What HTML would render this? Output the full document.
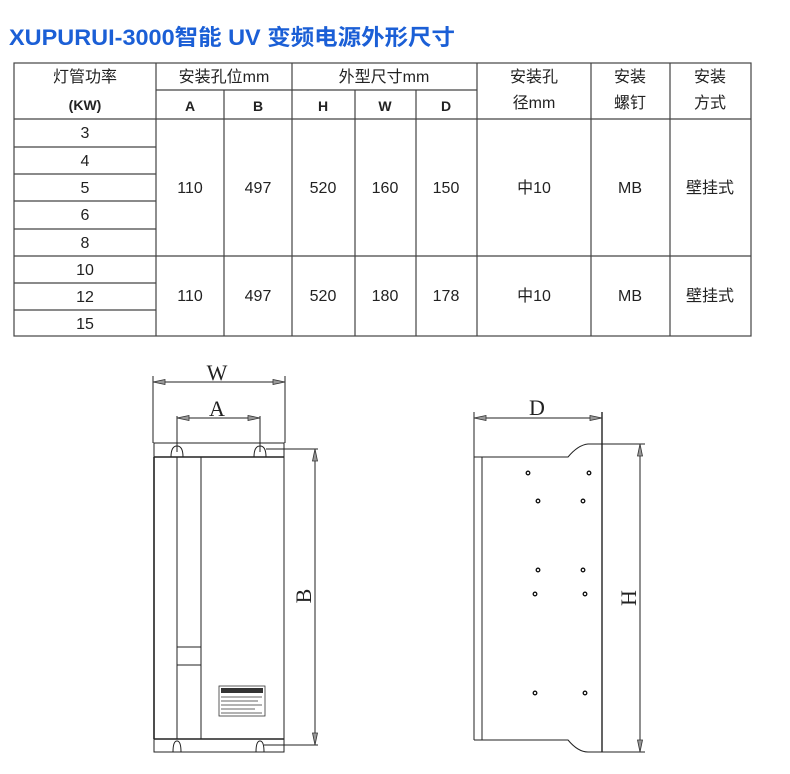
<!DOCTYPE html><html><head><meta charset="utf-8"><style>
body{margin:0;width:790px;height:774px;background:#fff;overflow:hidden;font-family:"Liberation Sans","Noto Sans CJK SC",sans-serif}
</style></head><body>
<svg width="790" height="774" xmlns="http://www.w3.org/2000/svg" style="position:absolute;left:0;top:0">
<text x="9" y="45" font-size="22" fill="#1b5fd6" font-family="Liberation Sans Narrow,Liberation Sans,Noto Sans CJK SC,sans-serif" font-weight="bold" textLength="446" lengthAdjust="spacingAndGlyphs">XUPURUI-3000智能 UV 变频电源外形尺寸</text>
<g stroke="#444" stroke-width="1.2" fill="none">
<rect x="14" y="63" width="737" height="273"/>
<line x1="14" y1="119" x2="751" y2="119"/>
<line x1="156" y1="90" x2="477" y2="90"/>
<line x1="14" y1="256" x2="751" y2="256"/>
<line x1="14" y1="147" x2="156" y2="147"/><line x1="14" y1="174" x2="156" y2="174"/><line x1="14" y1="201" x2="156" y2="201"/><line x1="14" y1="229" x2="156" y2="229"/><line x1="14" y1="283" x2="156" y2="283"/><line x1="14" y1="310" x2="156" y2="310"/>
<line x1="156" y1="63" x2="156" y2="336"/><line x1="292" y1="63" x2="292" y2="336"/><line x1="477" y1="63" x2="477" y2="336"/><line x1="591" y1="63" x2="591" y2="336"/><line x1="670" y1="63" x2="670" y2="336"/>
<line x1="224" y1="90" x2="224" y2="336"/><line x1="355" y1="90" x2="355" y2="336"/><line x1="416" y1="90" x2="416" y2="336"/>
</g>
<g font-size="16" fill="#222" text-anchor="middle" font-family="Liberation Sans,Noto Sans CJK SC,sans-serif">
<text x="85" y="82">灯管功率</text><text x="85" y="110" font-weight="bold" font-size="14">(KW)</text>
<text x="224" y="82">安装孔位mm</text><text x="384" y="82">外型尺寸mm</text>
<g font-weight="bold" font-size="14"><text x="190" y="111">A</text><text x="258" y="111">B</text><text x="323" y="111">H</text><text x="385" y="111">W</text><text x="446" y="111">D</text></g>
<text x="534" y="82">安装孔</text><text x="534" y="108">径mm</text>
<text x="630" y="82">安装</text><text x="630" y="108">螺钉</text>
<text x="710" y="82">安装</text><text x="710" y="108">方式</text>
<text x="85" y="138">3</text><text x="85" y="166">4</text><text x="85" y="193">5</text><text x="85" y="220">6</text><text x="85" y="248">8</text>
<text x="85" y="275">10</text><text x="85" y="302">12</text><text x="85" y="329">15</text>
<text x="190" y="193">110</text><text x="258" y="193">497</text><text x="323" y="193">520</text><text x="385" y="193">160</text><text x="446" y="193">150</text><text x="534" y="193">中10</text><text x="630" y="193">MB</text><text x="710" y="193">壁挂式</text>
<text x="190" y="301">110</text><text x="258" y="301">497</text><text x="323" y="301">520</text><text x="385" y="301">180</text><text x="446" y="301">178</text><text x="534" y="301">中10</text><text x="630" y="301">MB</text><text x="710" y="301">壁挂式</text>
</g>
<g stroke="#222" stroke-width="1" fill="none">
<line x1="153" y1="376" x2="153" y2="443"/><line x1="285" y1="376" x2="285" y2="443"/>
<line x1="153" y1="382" x2="285" y2="382"/>
<line x1="177" y1="416" x2="177" y2="452"/><line x1="260" y1="416" x2="260" y2="452"/>
<line x1="177" y1="418" x2="260" y2="418"/>
<rect x="154" y="443" width="130" height="309"/>
<line x1="154" y1="457" x2="284" y2="457" stroke-width="1.5"/><line x1="154" y1="739" x2="284" y2="739" stroke-width="1.5"/>
<line x1="154" y1="457" x2="154" y2="739" stroke-width="1.6"/>
<line x1="177" y1="457" x2="177" y2="739"/><line x1="201" y1="457" x2="201" y2="739"/>
<rect x="177" y="647" width="24" height="18"/>
<path d="M171,457 Q171,446 177,446 Q183,446 183,457"/><path d="M254,457 Q254,446 260,446 Q266,446 266,457"/>
<path d="M173,752 Q173,741 177,741 Q181,741 181,752"/><path d="M256,752 Q256,741 260,741 Q264,741 264,752"/>
<line x1="266" y1="449" x2="318" y2="449"/><line x1="264" y1="745" x2="318" y2="745"/>
<line x1="315" y1="449" x2="315" y2="745"/>
<line x1="474" y1="412" x2="474" y2="740"/><line x1="602" y1="412" x2="602" y2="752" stroke-width="1.4"/>
<line x1="474" y1="418" x2="602" y2="418"/>
<line x1="482" y1="457" x2="482" y2="740"/>
<path d="M474,457 L568,457 Q578,445 588,444 L602,444"/>
<path d="M474,740 L568,740 Q578,752 588,752 L602,752"/>
<line x1="602" y1="444" x2="645" y2="444"/><line x1="602" y1="752" x2="645" y2="752"/>
<line x1="640" y1="444" x2="640" y2="752"/>
</g>
<g fill="#999" stroke="#333" stroke-width="0.8">
<path d="M153,382 l12,-2.5 v5z"/><path d="M285,382 l-12,-2.5 v5z"/>
<path d="M177,418 l12,-2.5 v5z"/><path d="M260,418 l-12,-2.5 v5z"/>
<path d="M315,449 l-2.5,12 h5z"/><path d="M315,745 l-2.5,-12 h5z"/>
<path d="M474,418 l12,-2.5 v5z"/><path d="M602,418 l-12,-2.5 v5z"/>
<path d="M640,444 l-2.5,12 h5z"/><path d="M640,752 l-2.5,-12 h5z"/>
</g>
<rect x="219" y="686" width="46" height="30" fill="#fff" stroke="#333" stroke-width="0.8"/>
<rect x="221" y="688" width="42" height="5" fill="#333"/>
<g stroke="#666" stroke-width="1"><line x1="221" y1="697" x2="262" y2="697"/><line x1="221" y1="701" x2="258" y2="701"/><line x1="221" y1="705" x2="262" y2="705"/><line x1="221" y1="709" x2="255" y2="709"/><line x1="221" y1="713" x2="262" y2="713"/></g>
<g fill="#fff" stroke="#111" stroke-width="1.3">
<circle cx="528" cy="473" r="1.8"/><circle cx="589" cy="473" r="1.8"/><circle cx="538" cy="501" r="1.8"/><circle cx="583" cy="501" r="1.8"/><circle cx="538" cy="570" r="1.8"/><circle cx="583" cy="570" r="1.8"/><circle cx="535" cy="594" r="1.8"/><circle cx="585" cy="594" r="1.8"/><circle cx="535" cy="693" r="1.8"/><circle cx="585" cy="693" r="1.8"/>
</g>
<g font-family="Liberation Serif,serif" font-size="22" fill="#222" text-anchor="middle">
<text x="217" y="380">W</text><text x="217" y="416">A</text><text x="537" y="415">D</text>
<text transform="translate(311,596) rotate(-90)" x="0" y="0">B</text>
<text transform="translate(636,598) rotate(-90)" x="0" y="0">H</text>
</g>
</svg>
</body></html>
